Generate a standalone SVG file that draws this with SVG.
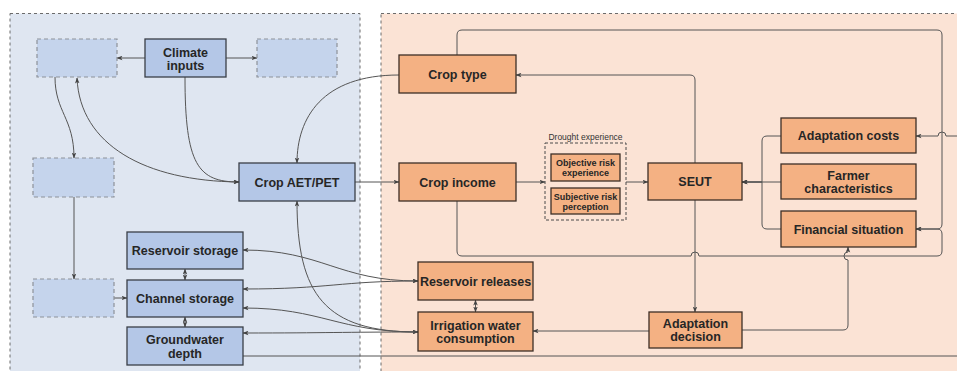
<svg xmlns="http://www.w3.org/2000/svg" width="957" height="371" viewBox="0 0 957 371">
<defs>
<style>
.bg{stroke:#6b6b6b;stroke-width:1;stroke-dasharray:3,3}
.blue{fill:#b4c7e7;stroke:#3a3f47;stroke-width:1.3}
.ghost{fill:#c5d4ec;stroke:#8e9299;stroke-width:1.2;stroke-dasharray:4,3}
.org{fill:#f4b183;stroke:#3d2f26;stroke-width:1.3}
.grp{fill:none;stroke:#4a4a4a;stroke-width:1;stroke-dasharray:3,2}
text{font-family:"Liberation Sans",Arial,sans-serif;font-weight:bold;font-size:12.5px;fill:#262626;text-anchor:middle}
.sm{font-size:9px}
.lbl{font-size:8.5px;font-weight:normal;fill:#333}
.e{fill:none;stroke:#555;stroke-width:1}
.a{marker-end:url(#arr)}
.b{marker-start:url(#arr);marker-end:url(#arr)}
</style>
<marker id="arr" viewBox="0 0 7 6" refX="6.5" refY="3" markerWidth="6" markerHeight="5" markerUnits="userSpaceOnUse" orient="auto-start-reverse">
<path d="M0,0.3 L7,3 L0,5.7 L1.6,3 z" fill="#444"/>
</marker>
</defs>

<rect class="bg" x="10" y="13.5" width="350" height="380" fill="#dfe6f1"/>
<rect class="bg" x="381" y="13.5" width="600" height="380" fill="#fbe3d5"/>

<g id="connectors">
<path class="e a" d="M145,58 H117"/>
<path class="e a" d="M226,58 H257"/>
<path class="e a" d="M55,77 C55,112 74,118 74,158"/>
<path class="e b" d="M77,78 C80,145 145,181 239,182"/>
<path class="e a" d="M185,77 C185,165 198,182 239,182"/>
<path class="e a" d="M399,75 C322,75 297,118 297,163"/>
<path class="e a" d="M355,182 H399"/>
<path class="e a" d="M74,197 V279"/>
<path class="e a" d="M114,298 H127"/>
<path class="e b" d="M185,269 V280"/>
<path class="e b" d="M185,317 V327"/>
<path class="e b" d="M418,281 C338,281 322,250 243,250"/>
<path class="e b" d="M418,281 C340,281 330,289 243,289"/>
<path class="e b" d="M418,332 C338,332 322,308 243,308"/>
<path class="e b" d="M418,332 C340,332 330,333 243,333"/>
<path class="e a" d="M418,332 C325,332 297,295 297,201"/>
<path class="e" d="M243,356 H975 V136"/>
<path class="e a" d="M975,136 H946 A4,4 0 0 0 938,136 H916"/>
<path class="e a" d="M457,55 V35 Q457,30 462,30 H937 Q942,30 942,35 V224 Q942,229 937,229 H916"/>
<path class="e a" d="M457,201 V251 Q457,256 462,256 H691 A4,4 0 0 1 699,256 H937 Q942,256 942,251 V234 Q942,229 937,229 H916"/>
<path class="e a" d="M695,163 V80 Q695,75 690,75 H516"/>
<path class="e a" d="M695,200 V312"/>
<path class="e a" d="M649,331 H533"/>
<path class="e a" d="M742,330 H843 Q848,330 848,325 V260 A4,4 0 0 1 848,252 V247"/>
<path class="e a" d="M781,136 H767 Q762,136 762,141 V182 H742"/>
<path class="e a" d="M781,229 H767 Q762,229 762,224 V182 H742"/>
<path class="e a" d="M781,182 H742"/>
<path class="e a" d="M516,182 H545"/>
<path class="e a" d="M626,182 H648"/>
<path class="e b" d="M475.5,300 V312"/>
</g>

<g id="ghost1"><rect class="ghost" x="37" y="39" width="80" height="38"/></g>
<g id="climate"><rect class="blue" x="145" y="39" width="81" height="38"/><text x="185.5" y="56.5">Climate</text><text x="185.5" y="70">inputs</text></g>
<g id="ghost2"><rect class="ghost" x="257" y="39" width="80" height="38"/></g>
<g id="ghost3"><rect class="ghost" x="33" y="158" width="81" height="39"/></g>
<g id="ghost4"><rect class="ghost" x="33" y="279" width="81" height="38"/></g>
<g id="aet"><rect class="blue" x="239" y="163" width="116" height="38"/><text x="297" y="186.5">Crop AET/PET</text></g>
<g id="resstorage"><rect class="blue" x="127" y="232" width="116" height="37"/><text x="185" y="255">Reservoir storage</text></g>
<g id="channel"><rect class="blue" x="127" y="280" width="116" height="37"/><text x="185" y="303">Channel storage</text></g>
<g id="groundwater"><rect class="blue" x="127" y="327" width="116" height="38"/><text x="185" y="343.5">Groundwater</text><text x="185" y="357.5">depth</text></g>

<g id="croptype"><rect class="org" x="399" y="55" width="117" height="38"/><text x="457.5" y="78.5">Crop type</text></g>
<g id="cropincome"><rect class="org" x="399" y="163" width="117" height="38"/><text x="457.5" y="186.5">Crop income</text></g>
<g id="drought"><rect class="grp" x="545" y="143" width="81" height="77"/><text class="lbl" x="585.5" y="139.5">Drought experience</text>
<g id="objective"><rect class="org" x="551" y="154" width="69" height="27"/><text class="sm" x="585.5" y="166">Objective risk</text><text class="sm" x="585.5" y="175.5">experience</text></g>
<g id="subjective"><rect class="org" x="551" y="188" width="69" height="26"/><text class="sm" x="585.5" y="199.5">Subjective risk</text><text class="sm" x="585.5" y="209.5">perception</text></g>
</g>
<g id="seut"><rect class="org" x="648" y="163" width="94" height="37"/><text x="695" y="186">SEUT</text></g>
<g id="adcosts"><rect class="org" x="781" y="118" width="135" height="35"/><text x="848.5" y="140">Adaptation costs</text></g>
<g id="farmer"><rect class="org" x="781" y="164" width="135" height="35"/><text x="848.5" y="179.5">Farmer</text><text x="848.5" y="192.5">characteristics</text></g>
<g id="finsit"><rect class="org" x="781" y="211" width="135" height="36"/><text x="848.5" y="233.5">Financial situation</text></g>
<g id="resrel"><rect class="org" x="418" y="262" width="115" height="38"/><text x="475.5" y="285.5">Reservoir releases</text></g>
<g id="irrig"><rect class="org" x="418" y="312" width="115" height="39"/><text x="475.5" y="329.5">Irrigation water</text><text x="475.5" y="342.5">consumption</text></g>
<g id="addecision"><rect class="org" x="649" y="312" width="93" height="36"/><text x="695.5" y="327.5">Adaptation</text><text x="695.5" y="341">decision</text></g>
</svg>
